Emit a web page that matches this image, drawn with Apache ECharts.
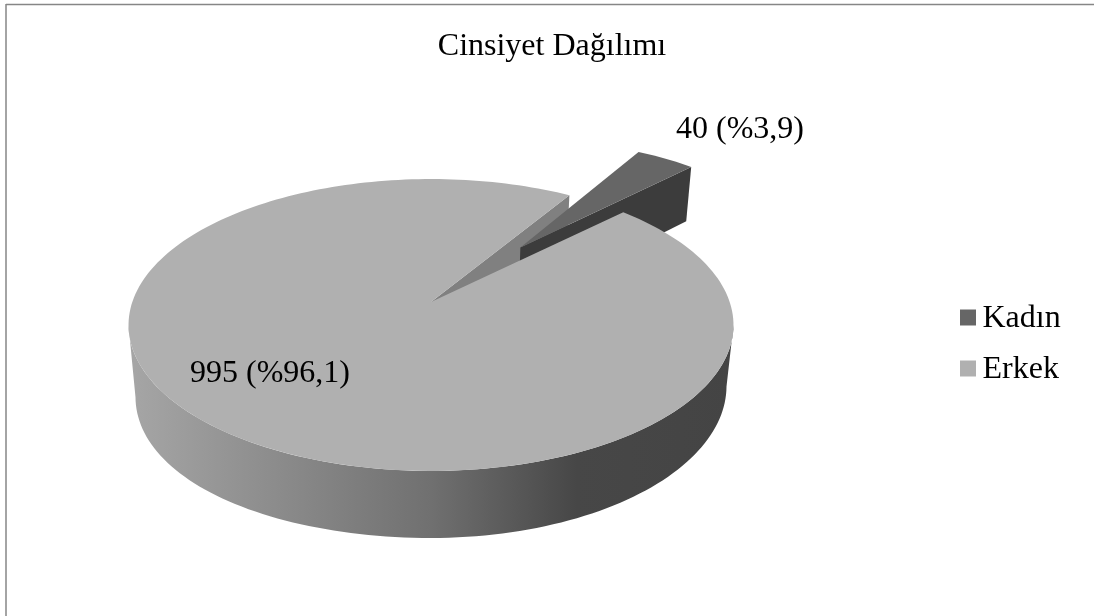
<!DOCTYPE html>
<html lang="tr">
<head>
<meta charset="utf-8">
<title>Cinsiyet Dağılımı</title>
<style>
  html, body { margin: 0; padding: 0; background: #fff; }
  #chart { width: 1094px; height: 616px; }
</style>
<script src="https://cdn.jsdelivr.net/npm/echarts@6/dist/echarts.min.js"></script>
</head>
<body>
<div id="chart"></div>
<script>
// Chart content
const chartTitle = 'Cinsiyet Dağılımı';
const categories = ['Kadın', 'Erkek'];
const counts = [40, 995];
const total = counts[0] + counts[1];

// Fill colours
const topColors = ['#666666', '#b0b0b0'];
const cutFaceColor = '#808080';
const innerWallColor = '#3c3c3c';
const FONT = '"Liberation Serif", "Times New Roman", serif';

// Perspective disc: a point (u, v) of the unit circle at level h (0 top, 1 bottom).
// leftSag lets the left of the lower rim hang slightly further down.
const view = { ox: 431, oy: 302, a: 298.7, b: 142.3, p: 0.1576, q: 0.023, depth: 61.9, leftSag: 11 };
const firstSliceDeg = 31.7;
const kadinLagDeg = 0.7;
const explode = 0.5176;

// The rim wall runs between the two points where the disc's outline turns back
const silhouetteDeg = Math.acos(view.p) * 180 / Math.PI;
const wallFromDeg = 180 - silhouetteDeg, wallToDeg = 180 + silhouetteDeg;

function project(u, v, h) {
  const w = 1 - view.p * v + view.q * h;
  const sag = u < 0 ? view.leftSag * u * u * h : 0;
  return [view.ox + view.a * u / w, view.oy + (view.b * v + view.depth * h + sag) / w];
}
function polar(deg) {
  const r = deg * Math.PI / 180;
  return [Math.sin(r), -Math.cos(r)];
}
function arc(from, to, h, off) {
  const pts = [];
  const steps = Math.max(2, Math.ceil(Math.abs(to - from) / 1.5));
  for (let i = 0; i <= steps; i++) {
    const [u, v] = polar(from + (to - from) * i / steps);
    pts.push(project(u + off[0], v + off[1], h));
  }
  return pts;
}
function poly(points, fill, z2) {
  return { type: 'polygon', z2, shape: { points }, style: { fill, stroke: null, lineWidth: 0 }, silent: true };
}
function valueLabel(i) {
  const pct = (counts[i] / total * 100).toFixed(1).replace('.', ',');
  return counts[i] + ' (%' + pct + ')';
}
function labelEl(text, x, y, z2) {
  return {
    type: 'text', z2, silent: true,
    style: { text, x, y, fill: '#000', font: '32px ' + FONT, align: 'center', verticalAlign: 'middle' }
  };
}

// Slice angles come straight from the counts
const sweepKadin = counts[0] / total * 360;
const kadinStart = firstSliceDeg, kadinEnd = firstSliceDeg + sweepKadin;
const erkekEnd = kadinStart + 360;

// The pulled-out slice: its top and the inner wall facing the viewer
function renderKadin() {
  const from = kadinStart - kadinLagDeg, to = kadinEnd - kadinLagDeg;
  const d = polar((from + to) / 2);
  const off = [d[0] * explode, d[1] * explode];
  const apexTop = project(off[0], off[1], 0);
  const apexBot = project(off[0], off[1], 1);
  const rim = arc(from, to, 0, off);
  const rimEnd = rim[rim.length - 1];
  const rimEndBot = arc(to, to, 1, off)[0];
  return {
    type: 'group',
    children: [
      poly([apexTop, rimEnd, rimEndBot, apexBot], innerWallColor, 2),
      poly([apexTop].concat(rim), topColors[0], 3),
      labelEl(valueLabel(0), 740, 129.5, 10)
    ]
  };
}

// The large slice: cut face behind the small slice, front wall, then the top over both
function renderErkek() {
  const none = [0, 0];
  const apexTop = project(0, 0, 0);
  const apexBot = project(0, 0, 1);
  const rimTop = arc(kadinEnd, erkekEnd, 0, none);
  const startTop = project(...polar(kadinStart), 0);
  const startBot = project(...polar(kadinStart), 1);
  const wall = arc(wallFromDeg, wallToDeg, 0, none).concat(arc(wallToDeg, wallFromDeg, 1, none));
  const wallFill = new echarts.graphic.LinearGradient(0, 0, 1, 0, [
    { offset: 0, color: '#a6a6a6' },
    { offset: 0.5, color: '#707070' },
    { offset: 0.74, color: '#474747' },
    { offset: 1, color: '#444444' }
  ], false);
  return {
    type: 'group',
    children: [
      poly([apexTop, startTop, startBot, apexBot], cutFaceColor, 1),
      poly(wall, wallFill, 4),
      poly([apexTop].concat(rimTop), topColors[1], 5),
      labelEl(valueLabel(1), 270, 373.5, 10)
    ]
  };
}

const chart = echarts.init(document.getElementById('chart'), null, { renderer: 'canvas' });
chart.setOption({
  animation: false,
  backgroundColor: '#ffffff',
  title: {
    text: chartTitle,
    left: 547, top: 25.5, textAlign: 'center',
    textStyle: { fontFamily: FONT, fontSize: 32, fontWeight: 'normal', color: '#000' }
  },
  legend: {
    orient: 'vertical',
    left: 955, top: 298,
    itemWidth: 16, itemHeight: 16, itemGap: 19,
    icon: 'rect',
    data: categories,
    formatter: '{n|{name}}',
    textStyle: {
      fontFamily: FONT, fontSize: 32, color: '#000', padding: [0, 0, 0, 1.5],
      rich: { n: { fontFamily: FONT, fontSize: 32, color: '#000', padding: [3, 0, 0, 0] } }
    }
  },
  graphic: [
    { type: 'line', silent: true, shape: { x1: 6, y1: 4.5, x2: 1094, y2: 4.5 }, style: { stroke: '#868686', lineWidth: 1.5 } },
    { type: 'line', silent: true, shape: { x1: 6, y1: 4, x2: 6, y2: 616 }, style: { stroke: '#868686', lineWidth: 1.5 } }
  ],
  series: [
    { type: 'custom', name: categories[0], coordinateSystem: 'none', itemStyle: { color: topColors[0] },
      data: [counts[0]], renderItem: renderKadin },
    { type: 'custom', name: categories[1], coordinateSystem: 'none', itemStyle: { color: topColors[1] },
      data: [counts[1]], renderItem: renderErkek }
  ]
});
</script>
</body>
</html>
